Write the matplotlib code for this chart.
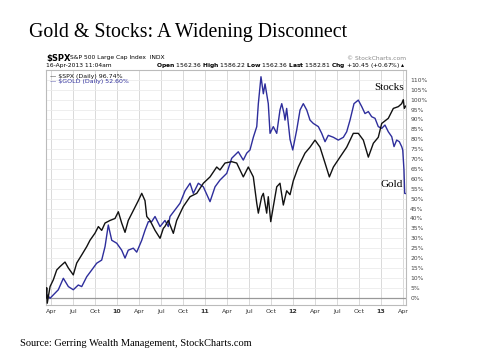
import matplotlib
matplotlib.use("Agg")
import matplotlib.pyplot as plt

# time in decimal years, values in % change since start
spx_t = [2009.193, 2009.201, 2009.207, 2009.239, 2009.276, 2009.315, 2009.352, 2009.409,
         2009.447, 2009.503, 2009.542, 2009.599, 2009.656, 2009.693, 2009.750, 2009.788,
         2009.826, 2009.864, 2009.920, 2009.977, 2010.015, 2010.053, 2010.091, 2010.128,
         2010.185, 2010.242, 2010.281, 2010.318, 2010.338, 2010.375, 2010.432, 2010.489,
         2010.526, 2010.545, 2010.583, 2010.640, 2010.678, 2010.753, 2010.830, 2010.906,
         2010.981, 2011.057, 2011.133, 2011.170, 2011.227, 2011.303, 2011.360, 2011.435,
         2011.492, 2011.549, 2011.588, 2011.606, 2011.644, 2011.663, 2011.701, 2011.719,
         2011.747, 2011.776, 2011.815, 2011.852, 2011.890, 2011.928, 2011.966, 2012.003,
         2012.060, 2012.136, 2012.193, 2012.250, 2012.307, 2012.364, 2012.413, 2012.459,
         2012.534, 2012.610, 2012.685, 2012.742, 2012.799, 2012.856, 2012.913, 2012.969,
         2013.008, 2013.083, 2013.140, 2013.197, 2013.235, 2013.253, 2013.265, 2013.280]
spx_v = [0, 5, -2.8, 5.6, 9, 14, 15.7, 18,
         15, 11.5, 17.5, 21.6, 25.8, 29, 32.6, 35.9,
         34, 37.7, 39, 40, 43.4, 37.7, 33, 39,
         44, 49, 52.7, 49, 41, 39, 34, 30,
         35, 36, 39, 32.5, 39, 46, 51, 52.7,
         57.8, 61, 66, 64.5, 68, 68.7, 68, 61,
         66, 61, 47.7, 42.7, 51, 52.7, 42.7, 51,
         38.4, 46, 56, 57.8, 46.8, 54, 52, 59,
         66, 73, 76, 79.6, 76, 68, 61, 66,
         71, 76, 83, 83, 79.6, 71, 78, 81,
         88, 90.6, 95.6, 96.5, 98, 100, 95.6, 96.74]

gold_t = [2009.193, 2009.207, 2009.239, 2009.276, 2009.333, 2009.390, 2009.447, 2009.503,
          2009.560, 2009.599, 2009.656, 2009.713, 2009.769, 2009.826, 2009.864, 2009.901,
          2009.940, 2009.997, 2010.053, 2010.091, 2010.128, 2010.185, 2010.224, 2010.281,
          2010.318, 2010.356, 2010.394, 2010.432, 2010.489, 2010.545, 2010.583, 2010.602,
          2010.716, 2010.773, 2010.830, 2010.867, 2010.924, 2010.981, 2011.057, 2011.114,
          2011.170, 2011.247, 2011.303, 2011.378, 2011.435, 2011.474, 2011.511, 2011.549,
          2011.588, 2011.606, 2011.636, 2011.663, 2011.682, 2011.719, 2011.739, 2011.776,
          2011.815, 2011.852, 2011.872, 2011.898, 2011.909, 2011.928, 2011.966, 2011.997,
          2012.042, 2012.080, 2012.117, 2012.156, 2012.193, 2012.231, 2012.288, 2012.326,
          2012.364, 2012.401, 2012.459, 2012.515, 2012.572, 2012.610, 2012.648, 2012.693,
          2012.742, 2012.781, 2012.818, 2012.856, 2012.894, 2012.932, 2012.969, 2013.008,
          2013.045, 2013.083, 2013.122, 2013.148, 2013.178, 2013.208, 2013.235, 2013.247,
          2013.261, 2013.269, 2013.280]
gold_v = [0, 1.4, -0.3, 1.4, 4, 9.8, 5.6, 4,
          6.4, 5.6, 10.6, 14, 17.4, 19, 25.8, 36.7,
          29, 27.5, 24, 20, 24, 25, 23, 29,
          34, 38.4, 38.4, 41, 35.9, 39, 35.9, 41,
          47.7, 54, 57.8, 52.7, 57.8, 56, 48.5, 56,
          59.4, 62.8, 70.4, 73.7, 69.5, 73, 74.6, 81,
          86.4, 98, 111.6, 103, 108, 98, 83, 86.4,
          83, 94.8, 98, 93, 89.7, 95.6, 80, 74.6,
          84.7, 94.8, 98, 94.8, 89.7, 88, 86.4, 83,
          78.8, 82, 81, 79.6, 81, 83.8, 89.7, 98,
          99.8, 96.5, 93, 94, 91.4, 90.6, 86.4, 85.5,
          87.2, 83.8, 81.3, 76.3, 79.6, 78.8, 76.3, 74.6,
          64.5, 52.7, 52.6]

x_ticks = [2009.25, 2009.5, 2009.75, 2010.0, 2010.25, 2010.5, 2010.75, 2011.0,
           2011.25, 2011.5, 2011.75, 2012.0, 2012.25, 2012.5, 2012.75, 2013.0, 2013.25]
x_labels = ["Apr", "Jul", "Oct", "10", "Apr", "Jul", "Oct", "11",
            "Apr", "Jul", "Oct", "12", "Apr", "Jul", "Oct", "13", "Apr"]
y_ticks = list(range(0, 115, 5))

W, H = 480, 360
fig = plt.figure(figsize=(4.8, 3.6), dpi=100)
ax = fig.add_axes([46 / W, 1 - 305 / H, 360 / W, 235 / H])

grid_c = "#d9d9d9"
for t in x_ticks:
    ax.axvline(t, color=grid_c, linewidth=0.7, zorder=0)
for v in y_ticks:
    ax.axhline(v, color="#ebebeb", linewidth=0.6, zorder=0)
ax.axhline(0, color="#999999", linewidth=0.9, zorder=1)

ax.plot(spx_t, spx_v, color="#111111", linewidth=1.0, zorder=3)
ax.plot(gold_t, gold_v, color="#2e2e9c", linewidth=1.0, zorder=2)

ax.set_xlim(2009.193, 2013.284)
ax.set_ylim(-3.7, 115)
ax.set_xticks(x_ticks)
ax.set_xticklabels(x_labels, fontsize=4.5, color="#333333")
for lbl in ax.get_xticklabels():
    if lbl.get_text().isdigit():
        lbl.set_fontweight("bold")
ax.set_yticks(y_ticks)
ax.set_yticklabels([f"{v}%" for v in y_ticks], fontsize=4.3, color="#444444")
ax.yaxis.tick_right()
ax.tick_params(length=0, pad=3)
for s in ax.spines.values():
    s.set_color("#bbbbbb")
    s.set_linewidth(0.8)

# in-chart legend
ax.text(0.012, 0.985, "\u2014 $SPX (Daily) 96.74%", transform=ax.transAxes,
        fontsize=4.5, color="#111111", va="top")
ax.text(0.012, 0.963, "\u2014 $GOLD (Daily) 52.60%", transform=ax.transAxes,
        fontsize=4.5, color="#2e2e9c", va="top")

ax.text(2013.265, 104, "Stocks", fontsize=8, family="Liberation Serif", ha="right", va="bottom")
ax.text(2013.245, 55, "Gold", fontsize=8, family="Liberation Serif", ha="right", va="bottom")

# header
fig.text(29 / W, 1 - 33 / H, "Gold & Stocks: A Widening Disconnect", fontsize=14.3,
         family="Liberation Serif", va="center")
fig.text(46 / W, 1 - 58 / H, "$SPX", fontsize=6, fontweight="bold", va="center")
fig.text(70 / W, 1 - 58 / H, "S&P 500 Large Cap Index  INDX", fontsize=4.3, va="center")
fig.text(46 / W, 1 - 66 / H, "16-Apr-2013 11:04am", fontsize=4.3, va="center")
fig.text(406 / W, 1 - 58 / H, "\u00a9 StockCharts.com", fontsize=4.3, color="#888888",
         ha="right", va="center")
fig.text(406 / W, 1 - 66 / H,
         r"$\bf{Open}$ 1562.36 $\bf{High}$ 1586.22 $\bf{Low}$ 1562.36 $\bf{Last}$ 1582.81 "
         r"$\bf{Chg}$ +10.45 (+0.67%) $\blacktriangle$",
         fontsize=4.3, ha="right", va="center")

fig.text(20 / W, 1 - 344 / H, "Source: Gerring Wealth Management, StockCharts.com",
         fontsize=7.5, family="Liberation Serif", va="center")

fig.savefig("out.png", dpi=100, facecolor="white")
